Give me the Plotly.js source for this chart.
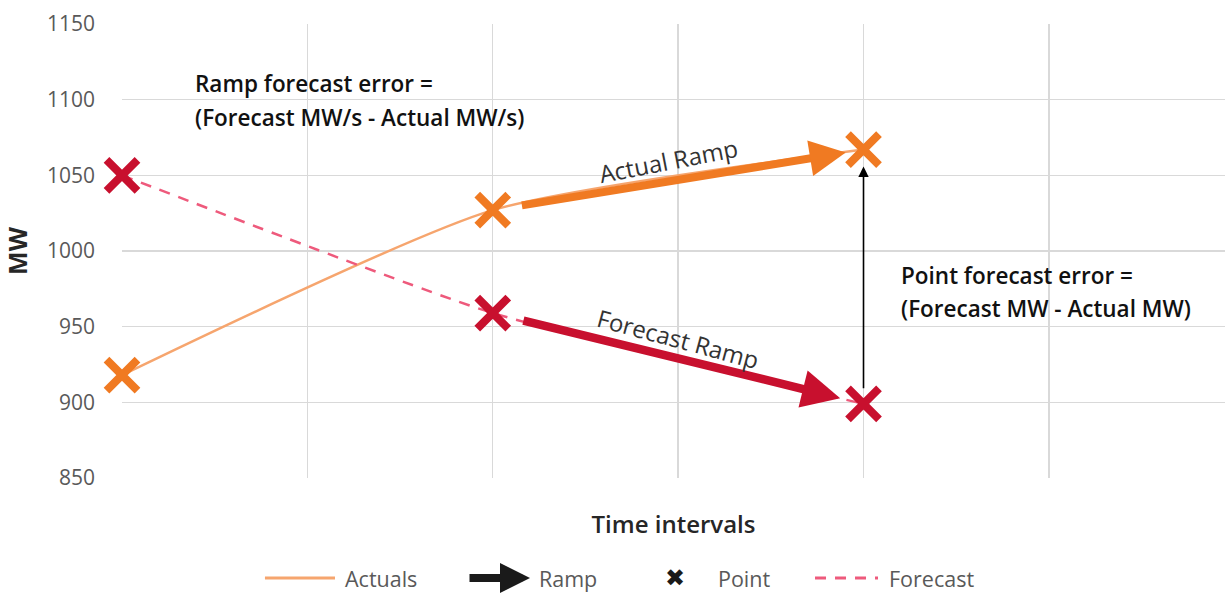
<!DOCTYPE html>
<html>
<head>
<meta charset="utf-8">
<script src="https://cdn.plot.ly/plotly-3.0.1.min.js"></script>
<style>
  html, body { margin: 0; padding: 0; background: #ffffff; }
  #chart { width: 1225px; height: 594px; }
</style>
</head>
<body>
<div id="chart"></div>
<script>
// Time intervals and MW values for the two series
const intervals = [0, 2, 4];
const actualsMW = [918, 1027, 1067];
const forecastMW = [1050, 959, 899];
const yTicks = [850, 900, 950, 1000, 1050, 1100, 1150];

const ORANGE = '#F07A22';
const ORANGE_LIGHT = '#F6A56E';
const CRIMSON = '#C8102E';
const PINK = '#EE5A7C';
const FONT = 'Open Sans, Noto Sans, sans-serif';

const traces = [
  {
    x: intervals, y: actualsMW, type: 'scatter', mode: 'lines',
    line: { color: ORANGE_LIGHT, width: 2.5, shape: 'spline', smoothing: 0.6 },
    name: 'Actuals', hoverinfo: 'skip', cliponaxis: false
  },
  {
    x: intervals, y: forecastMW, type: 'scatter', mode: 'lines',
    line: { color: PINK, width: 2.5, dash: '11px,9px', shape: 'spline', smoothing: 0.5 },
    name: 'Forecast', hoverinfo: 'skip', cliponaxis: false
  },
  {
    x: intervals, y: actualsMW, type: 'scatter', mode: 'markers',
    marker: { symbol: 'x-thin-open', size: 31, color: ORANGE, line: { color: ORANGE, width: 8 } },
    name: 'Actual points', hoverinfo: 'skip', cliponaxis: false
  },
  {
    x: intervals, y: forecastMW, type: 'scatter', mode: 'markers',
    marker: { symbol: 'x-thin-open', size: 31, color: CRIMSON, line: { color: CRIMSON, width: 8 } },
    name: 'Forecast points', hoverinfo: 'skip', cliponaxis: false
  }
];

const last = intervals.length - 1;
const LEG_Y = -0.2203;
const legendFont = { family: FONT, size: 21.5, color: '#595959' };
const annotations = [
  // ramp arrows between the second and last interval
  {
    x: intervals[last], y: actualsMW[last], ax: intervals[1], ay: actualsMW[1],
    xref: 'x', yref: 'y', axref: 'x', ayref: 'y', text: '', showarrow: true,
    arrowcolor: ORANGE, arrowwidth: 8, arrowhead: 2, arrowsize: 0.9,
    standoff: 18, startstandoff: 28
  },
  {
    x: intervals[last], y: forecastMW[last], ax: intervals[1], ay: forecastMW[1],
    xref: 'x', yref: 'y', axref: 'x', ayref: 'y', text: '', showarrow: true,
    arrowcolor: CRIMSON, arrowwidth: 8.5, arrowhead: 2, arrowsize: 0.9,
    standoff: 24, startstandoff: 30
  },
  // point error arrow from forecast up to actual at the last interval
  {
    x: intervals[last], y: actualsMW[last], ax: intervals[last], ay: forecastMW[last],
    xref: 'x', yref: 'y', axref: 'x', ayref: 'y', text: '', showarrow: true,
    arrowcolor: '#000000', arrowwidth: 1.6, arrowhead: 2, arrowsize: 1.3,
    standoff: 17, startstandoff: 14
  },
  // arrow labels
  {
    x: 2.95, y: 1060, xref: 'x', yref: 'y', text: 'Actual Ramp', showarrow: false,
    textangle: -11, font: { family: FONT, size: 24, color: '#333333' }
  },
  {
    x: 3.0, y: 942, xref: 'x', yref: 'y', text: 'Forecast Ramp', showarrow: false,
    textangle: 15, font: { family: FONT, size: 24, color: '#333333' }
  },
  // explanatory notes
  {
    x: 0.0644, y: 0.870, xref: 'paper', yref: 'paper', xanchor: 'left', yanchor: 'middle',
    text: 'Ramp forecast error =', showarrow: false,
    font: { family: FONT, size: 22.5, color: '#111111', weight: 600 }
  },
  {
    x: 0.0644, y: 0.795, xref: 'paper', yref: 'paper', xanchor: 'left', yanchor: 'middle',
    text: '(Forecast MW/s - Actual MW/s)', showarrow: false,
    font: { family: FONT, size: 22.5, color: '#111111', weight: 600 }
  },
  {
    x: 0.7045, y: 0.447, xref: 'paper', yref: 'paper', xanchor: 'left', yanchor: 'middle',
    text: 'Point forecast error =', showarrow: false,
    font: { family: FONT, size: 22.5, color: '#111111', weight: 600 }
  },
  {
    x: 0.7045, y: 0.374, xref: 'paper', yref: 'paper', xanchor: 'left', yanchor: 'middle',
    text: '(Forecast MW - Actual MW)', showarrow: false,
    font: { family: FONT, size: 22.5, color: '#111111', weight: 600 }
  },
  // legend entries
  {
    x: 0.2013, y: LEG_Y, xref: 'paper', yref: 'paper', xanchor: 'left', yanchor: 'middle',
    text: 'Actuals', showarrow: false, borderpad: 0, font: legendFont
  },
  {
    x: 0.3699, y: LEG_Y, xref: 'paper', yref: 'paper', ax: -62, ay: 0, axref: 'pixel', ayref: 'pixel',
    text: '', showarrow: true, arrowcolor: '#1a1a1a', arrowwidth: 8, arrowhead: 2, arrowsize: 0.75
  },
  {
    x: 0.3772, y: LEG_Y, xref: 'paper', yref: 'paper', xanchor: 'left', yanchor: 'middle',
    text: 'Ramp', showarrow: false, borderpad: 0, font: legendFont
  },
  {
    x: 0.5014, y: LEG_Y, xref: 'paper', yref: 'paper', xanchor: 'center', yanchor: 'middle',
    text: '✖', showarrow: false, borderpad: 0, font: { family: 'DejaVu Sans', size: 24, color: '#1a1a1a' }
  },
  {
    x: 0.5394, y: LEG_Y, xref: 'paper', yref: 'paper', xanchor: 'left', yanchor: 'middle',
    text: 'Point', showarrow: false, borderpad: 0, font: legendFont
  },
  {
    x: 0.6945, y: LEG_Y, xref: 'paper', yref: 'paper', xanchor: 'left', yanchor: 'middle',
    text: 'Forecast', showarrow: false, borderpad: 0, font: legendFont
  }
];

const shapes = [
  {
    type: 'line', xref: 'paper', yref: 'paper', x0: 0.1296, x1: 0.1931, y0: LEG_Y, y1: LEG_Y,
    line: { color: ORANGE_LIGHT, width: 3 }
  },
  {
    type: 'line', xref: 'paper', yref: 'paper', x0: 0.6283, x1: 0.6854, y0: LEG_Y, y1: LEG_Y,
    line: { color: PINK, width: 3, dash: '11px,9px' }
  }
];

const layout = {
  width: 1225, height: 594,
  margin: { l: 122, r: 0, t: 24, b: 116 },
  paper_bgcolor: '#ffffff', plot_bgcolor: '#ffffff',
  showlegend: false,
  font: { family: FONT },
  xaxis: {
    range: [0, 5.95], dtick: 1, tick0: 0, showticklabels: false,
    showgrid: true, gridcolor: '#D9D9D9', gridwidth: 1.3,
    zeroline: false, showline: false, ticks: '',
    title: { text: 'Time intervals', standoff: 38,
      font: { family: FONT, size: 24, color: '#262626', weight: 600 } }
  },
  yaxis: {
    range: [850, 1150], tickvals: yTicks,
    showgrid: true, gridcolor: '#D9D9D9', gridwidth: 1.3,
    zeroline: false, showline: false, ticks: '',
    ticklabelstandoff: 26,
    tickfont: { family: FONT, size: 21, color: '#595959' },
    title: { text: 'MW', standoff: 16,
      font: { family: FONT, size: 25, color: '#262626', weight: 700 } }
  },
  annotations: annotations,
  shapes: shapes
};

Plotly.newPlot('chart', traces, layout, { displayModeBar: false, staticPlot: true });
</script>
</body>
</html>
